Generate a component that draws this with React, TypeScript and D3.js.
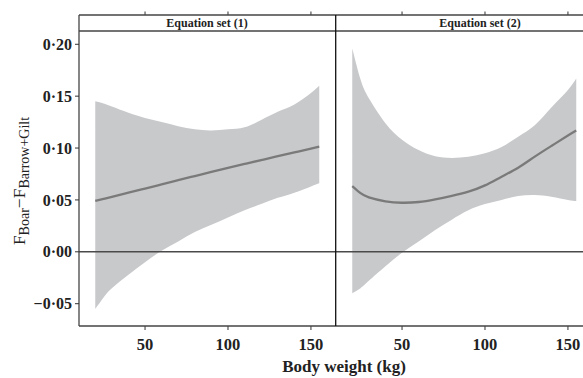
import * as d3 from "d3";

// body weight (kg) at which the curves were read
const weights = [20, 25, 30, 40, 50, 60, 70, 80, 90, 100, 110, 120, 130, 140, 150, 155];

// Equation set (1)
const fit1 = [0.049, 0.051, 0.053, 0.057, 0.061, 0.065, 0.069, 0.073, 0.077, 0.081, 0.0847, 0.0884, 0.0921, 0.0958, 0.0995, 0.1013];
const lower1 = [-0.055, -0.044, -0.035, -0.022, -0.01, 0.001, 0.01, 0.019, 0.026, 0.033, 0.04, 0.046, 0.052, 0.057, 0.063, 0.066];
const upper1 = [0.145, 0.143, 0.14, 0.134, 0.129, 0.125, 0.121, 0.118, 0.117, 0.118, 0.12, 0.127, 0.135, 0.142, 0.153, 0.16];

// Equation set (2)
const fit2 = [0.0634, 0.0565, 0.0525, 0.0487, 0.0473, 0.048, 0.0506, 0.054, 0.058, 0.064, 0.0724, 0.081, 0.0917, 0.102, 0.112, 0.1168];
const lower2 = [-0.04, -0.035, -0.028, -0.014, -0.001, 0.01, 0.021, 0.031, 0.04, 0.046, 0.05, 0.0537, 0.0547, 0.053, 0.05, 0.049];
const upper2 = [0.196, 0.166, 0.148, 0.124, 0.108, 0.098, 0.092, 0.0905, 0.0915, 0.095, 0.101, 0.111, 0.122, 0.139, 0.156, 0.167];

const panelTitles = ["Equation set (1)", "Equation set (2)"];
const xTicks = [50, 100, 150];
const yTicks = [-0.05, 0, 0.05, 0.1, 0.15, 0.2];

const W = 583;
const H = 378;
const font = "'Liberation Serif', 'Times New Roman', serif";
const top = 15;
const stripBottom = 31;
const bottom = 326;
const panelW = 256;
const panelLefts = [79, 336];

const fmtY = (v: number) => {
  const s = Math.abs(v).toFixed(2).replace(".", "\u00b7");
  return v < 0 ? "\u2212" + s : s;
};

export default function App() {
  const y = d3.scaleLinear().domain([-0.0715, 0.2128]).range([bottom, stripBottom]);

  const panels = [
    { fit: fit1, lower: lower1, upper: upper1 },
    { fit: fit2, lower: lower2, upper: upper2 },
  ];

  return (
    <svg
      width={W}
      height={H}
      style={{ position: "absolute", left: 0, top: 0, background: "#fff" }}
      fontFamily={font}
    >
      {panels.map((p, pi) => {
        const x0 = panelLefts[pi];
        const x = d3.scaleLinear().domain([10.2, 164.5]).range([x0, x0 + panelW]);
        const rows = weights.map((w, i) => ({ w, f: p.fit[i], lo: p.lower[i], hi: p.upper[i] }));
        const area = d3
          .area<(typeof rows)[0]>()
          .x((d) => x(d.w))
          .y0((d) => y(d.lo))
          .y1((d) => y(d.hi))
          .curve(d3.curveNatural);
        const line = d3
          .line<(typeof rows)[0]>()
          .x((d) => x(d.w))
          .y((d) => y(d.f))
          .curve(d3.curveNatural);
        return (
          <g key={pi}>
            <path d={area(rows) || ""} fill="#c8c9cb" />
            <path d={line(rows) || ""} fill="none" stroke="#7a7a7a" strokeWidth={2.3} />
            {xTicks.map((t) => (
              <g key={t}>
                <line x1={x(t)} x2={x(t)} y1={bottom} y2={bottom + 4} stroke="#333" strokeWidth={1} />
                <line x1={x(t)} x2={x(t)} y1={top} y2={top - 3.5} stroke="#333" strokeWidth={1} />
                <text
                  x={x(t)}
                  y={350}
                  textAnchor="middle"
                  fontSize={16.5}
                  fontWeight="bold"
                  fill="#222"
                >
                  {t}
                </text>
              </g>
            ))}
            <text
              x={x0 + (pi === 0 ? panelW / 2 : 144)}
              y={27}
              textAnchor="middle"
              fontSize={12}
              fontWeight="bold"
              fill="#222"
            >
              {panelTitles[pi]}
            </text>
          </g>
        );
      })}

      {/* zero reference line */}
      <line x1={79} x2={W} y1={y(0)} y2={y(0)} stroke="#4a4a4a" strokeWidth={1.4} />

      {/* frame */}
      <line x1={79} x2={W} y1={top} y2={top} stroke="#444" strokeWidth={1.3} />
      <line x1={79} x2={W} y1={stripBottom} y2={stripBottom} stroke="#444" strokeWidth={1.3} />
      <line x1={79} x2={W} y1={bottom} y2={bottom} stroke="#444" strokeWidth={1.3} />
      <line x1={79} x2={79} y1={top} y2={bottom} stroke="#444" strokeWidth={1.3} />
      <line x1={335.7} x2={335.7} y1={top} y2={bottom} stroke="#111" strokeWidth={1.3} />

      {/* y axis */}
      {yTicks.map((t) => (
        <g key={t}>
          <line x1={75} x2={79} y1={y(t)} y2={y(t)} stroke="#333" strokeWidth={1} />
          <text
            x={72}
            y={y(t)}
            dy="0.35em"
            textAnchor="end"
            fontSize={16}
            fontWeight="bold"
            fill="#222"
          >
            {fmtY(t)}
          </text>
        </g>
      ))}

      <text transform="translate(25,181) rotate(-90)" textAnchor="middle" fill="#222" fontSize={17.5}>
        F
        <tspan fontSize={14} dy={4}>Boar</tspan>
        <tspan dy={-4}>{"\u2212F"}</tspan>
        <tspan fontSize={14} dy={4}>Barrow+Gilt</tspan>
      </text>

      <text x={344} y={372} textAnchor="middle" fontSize={17} fontWeight="bold" fill="#222">
        Body weight (kg)
      </text>
    </svg>
  );
}
